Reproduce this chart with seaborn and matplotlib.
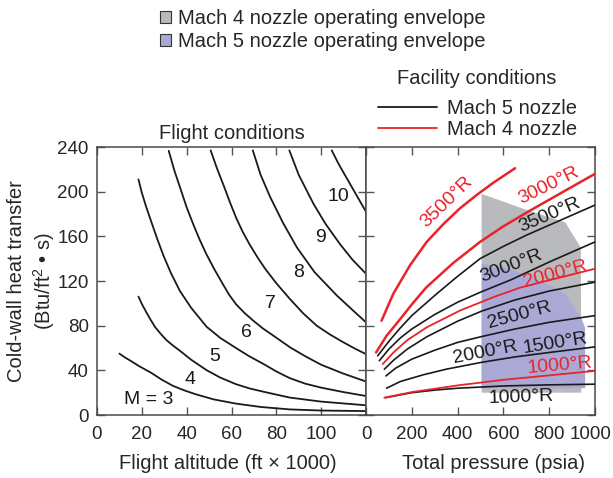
import pandas as pd
import seaborn as sns
import matplotlib.pyplot as plt
from matplotlib.patches import Patch
from matplotlib.lines import Line2D
from matplotlib.transforms import ScaledTranslation

# Flight conditions: altitude (ft x 1000) vs cold-wall heat transfer, one curve per Mach number
m3_alt = [10, 12.5, 15, 19, 24, 29, 34, 39, 44, 52, 62, 73, 86, 100, 120]
m3_q = [55, 51.5, 48.5, 43.5, 38, 31.5, 26, 22, 18.6, 14, 10.2, 7.2, 5, 4, 3.5]
m4_alt = [18.5, 20, 22, 24, 26, 28.5, 31, 34, 37, 42, 49, 55, 62, 68, 75, 86, 100, 120]
m4_q = [106, 99.5, 92, 85, 78.5, 72.5, 67, 62, 57.5, 49.5, 40, 33.5, 27.6, 23.8, 20.5, 15.6, 12, 8.7]
m5_alt = [18.5, 20, 22, 24.4, 27, 29.6, 33, 37, 42, 48.9, 55, 62, 68, 74, 80, 86, 93, 100, 110, 120]
m5_q = [211, 199, 186, 172, 157, 143, 127, 111, 96, 79, 69, 60, 52.5, 46, 39, 33, 28, 24.5, 20.5, 17]
m6_alt = [32, 34.5, 37, 40, 42.9, 45.8, 48.8, 52.5, 56.2, 59, 62.1, 66, 70, 74, 78, 86.2, 93, 100, 110, 120]
m6_q = [236.6, 219, 204, 186, 171, 157, 144, 130, 117, 107.5, 99, 91, 84, 77.5, 72, 60.5, 52.5, 45, 37, 30]
m7_alt = [50.7, 53.5, 56.6, 59.4, 62.2, 65, 68, 71.5, 75, 80, 86, 92, 98, 104, 110, 115, 120]
m7_q = [237, 221, 205, 190, 176, 164, 153, 141.5, 131, 118, 104, 91, 80, 72, 65, 59.5, 54.5]
m8_alt = [69.5, 73, 77.3, 83, 89.2, 97, 107, 114, 120]
m8_q = [237, 215, 195, 172, 150, 128, 107, 94, 83]
m9_alt = [85.8, 90, 96.6, 102, 108.4, 114, 120]
m9_q = [237, 215, 189, 171, 153, 139, 126.5]
m10_alt = [104.7, 108, 112, 116, 120]
m10_q = [237, 224, 210, 196, 182]

mach_labels = ['M = 3', '4', '5', '6', '7', '8', '9', '10']
mach_label_alt = [22.9, 41.5, 52.6, 66.8, 77.2, 89.8, 99.5, 107.7]
mach_label_q = [14.1, 32.1, 52.1, 74, 99.5, 127.9, 159.4, 195.3]

# Facility conditions: total pressure (psia) vs heat transfer
# Mach 4 nozzle (red)
r3500_p = [68, 119, 192, 265, 338, 410, 483, 556, 651]
r3500_q = [84.5, 108.5, 134, 155, 171, 185, 197, 208, 221]
r3000_p = [44, 90, 146, 200, 262, 380, 498, 600, 716, 862, 1000]
r3000_q = [56, 71, 85, 99, 114, 136, 155, 169, 183, 200, 216]
r2000_p = [73, 120, 180, 265, 410, 556, 672, 825, 1000]
r2000_q = [45.6, 56, 67, 78.5, 93.5, 105.5, 114, 122, 131]
r1000_p = [80, 200, 400, 600, 800, 1000]
r1000_q = [15.5, 20.5, 26.5, 31.5, 35.5, 39.5]
# Mach 5 nozzle (black)
b3500_p = [51, 100, 150, 200, 300, 393, 498, 600, 700, 800, 900, 1000]
b3500_q = [53, 66, 78, 89, 107, 123, 140, 151, 161, 170, 179, 188]
b3000_p = [58, 100, 150, 200, 300, 400, 500, 632, 800, 1000]
b3000_q = [48.6, 59, 69, 77, 90, 101, 110, 121, 137, 155]
b2500_p = [80, 120, 180, 265, 400, 505, 650, 800, 1000]
b2500_q = [41, 49, 59, 70, 84, 93, 103, 111, 119]
b2000_p = [87, 130, 200, 300, 400, 500, 650, 800, 1000]
b2000_q = [35, 42, 50, 58, 65, 70, 77, 83, 89]
b1500_p = [90, 150, 250, 350, 500, 650, 800, 1000]
b1500_q = [24, 30, 36, 41, 47, 52, 56, 61]
b1000_p = [85, 200, 300, 400, 600, 800, 1000]
b1000_q = [15.5, 20, 22.3, 24, 26, 27, 27.6]

# operating envelopes
m4_env_p = [505, 690, 870, 938, 940, 505]
m4_env_q = [198, 184.5, 172.5, 150, 20, 20]
m5_env_p = [505, 629, 789, 869, 942, 957, 957, 505]
m5_env_q = [135.5, 131, 117.5, 108.5, 86, 78, 24, 24]

# curve labels
temp_labels = ['3500°R', '3000°R', '3500°R', '3000°R', '2000°R',
               '2500°R', '2000°R', '1500°R', '1000°R', '1000°R']
temp_label_p = [352, 799, 803, 632, 825, 672, 520, 825, 844, 675]
temp_label_q = [191, 205, 179, 133, 126.4, 89, 56, 64.1, 44, 15.6]
temp_label_rot = [44, 26, 23, 21, 15, 15, 11, 9, 5, 2]
temp_label_nozzle = ['M4', 'M4', 'M5', 'M5', 'M4', 'M5', 'M5', 'M5', 'M4', 'M5']

RED = '#e8232a'
BLACK = '#1a1a1a'
GRAY = '#b9babd'
PURPLE = '#aaa9d6'
FS = 14.5
TICK_FS = 13.5

sns.set_style('ticks')
plt.rcParams['font.family'] = ['Liberation Sans', 'DejaVu Sans']
plt.rcParams['mathtext.fontset'] = 'custom'
plt.rcParams['mathtext.rm'] = 'Liberation Sans'
plt.rcParams['mathtext.default'] = 'regular'

fig = plt.figure(figsize=(6.13, 4.78), dpi=100)
ax1 = fig.add_axes([97 / 613, 1 - 415 / 478, 269 / 613, 268 / 478])
ax2 = fig.add_axes([366 / 613, 1 - 415 / 478, 229 / 613, 268 / 478])

# left panel
left_curves = [(m3_alt, m3_q), (m4_alt, m4_q), (m5_alt, m5_q), (m6_alt, m6_q),
               (m7_alt, m7_q), (m8_alt, m8_q), (m9_alt, m9_q), (m10_alt, m10_q)]
for alt, q in left_curves:
    sns.lineplot(x=alt, y=q, ax=ax1, color=BLACK, lw=1.3, sort=False, estimator=None)
for txt, a, q in zip(mach_labels, mach_label_alt, mach_label_q):
    ax1.text(a, q, txt, fontsize=14, ha='center', va='center', color=BLACK)

# right panel
ax2.fill(m4_env_p, m4_env_q, color=GRAY, lw=0, zorder=1)
ax2.fill(m5_env_p, m5_env_q, color=PURPLE, lw=0, zorder=1.5)
red_curves = [(r3500_p, r3500_q, 1.8), (r3000_p, r3000_q, 1.8),
              (r2000_p, r2000_q, 1.3), (r1000_p, r1000_q, 1.3)]
black_curves = [(b3500_p, b3500_q), (b3000_p, b3000_q), (b2500_p, b2500_q),
                (b2000_p, b2000_q), (b1500_p, b1500_q), (b1000_p, b1000_q)]
for p, q in black_curves:
    sns.lineplot(x=p, y=q, ax=ax2, color=BLACK, lw=1.2, sort=False, estimator=None, zorder=3)
for p, q, w in red_curves:
    sns.lineplot(x=p, y=q, ax=ax2, color=RED, lw=w, sort=False, estimator=None, zorder=4)
for txt, p, q, r, n in zip(temp_labels, temp_label_p, temp_label_q, temp_label_rot, temp_label_nozzle):
    ax2.text(p, q, txt, fontsize=14, rotation=r, rotation_mode='anchor',
             ha='center', va='center', color=RED if n == 'M4' else BLACK, zorder=5)

# axes styling
for ax in (ax1, ax2):
    ax.set_ylim(0, 240)
    ax.set_yticks(range(0, 241, 40))
    ax.tick_params(direction='in', length=6, width=1, color='#555555', top=True, right=True,
                   labelsize=TICK_FS)
    ax.tick_params(axis='x', pad=8)
    ax.tick_params(axis='y', pad=6)
    for s in ax.spines.values():
        s.set_color('#4a4a4a')
        s.set_linewidth(1.1)
ax1.set_xlim(0, 120)
ax1.set_xticks(range(0, 121, 20))
ax1.set_xticklabels(['0', '20', '40', '60', '80', '100', ''])
ax2.set_xlim(0, 1000)
ax2.set_xticks(range(0, 1001, 200))
ax2.tick_params(labelleft=False)
# keep the last pressure label inside the canvas, as in the reference
last = ax2.get_xticklabels()[-1]
last.set_transform(last.get_transform() + ScaledTranslation(-4 / 100, 0, fig.dpi_scale_trans))

ax1.set_title('Flight conditions', fontsize=FS, pad=6)
ax1.set_xlabel('Flight altitude (ft × 1000)', fontsize=FS)
ax1.xaxis.set_label_coords(0.485, -0.145)
ax1.set_ylabel('Cold-wall heat transfer\n(Btu/ft$^2$ • s)', fontsize=FS, linespacing=1.25)
ax1.yaxis.label.set_va('center')
ax1.yaxis.set_label_coords(-0.242, 0.5)
ax2.set_xlabel('Total pressure (psia)', fontsize=FS)
ax2.xaxis.set_label_coords(0.555, -0.145)

# legends
env_handles = [Patch(facecolor=GRAY, edgecolor='#333333', lw=0.8),
               Patch(facecolor=PURPLE, edgecolor='#333333', lw=0.8)]
fig.legend(env_handles, ['Mach 4 nozzle operating envelope', 'Mach 5 nozzle operating envelope'],
           loc='center left', bbox_to_anchor=(160 / 613, 1 - 30 / 478), frameon=False,
           fontsize=FS, handlelength=0.55, handleheight=0.55, handletextpad=0.35,
           labelspacing=0.2, borderpad=0, borderaxespad=0)
line_handles = [Line2D([], [], color=BLACK, lw=1.3), Line2D([], [], color=RED, lw=1.3)]
fig.legend(line_handles, ['Mach 5 nozzle', 'Mach 4 nozzle'],
           loc='center left', bbox_to_anchor=(378 / 613, 1 - 119 / 478), frameon=False,
           fontsize=FS, handlelength=2.95, handletextpad=0.5, labelspacing=0.1,
           borderpad=0, borderaxespad=0)
fig.text(477 / 613, 1 - 78 / 478, 'Facility conditions', fontsize=FS, ha='center', va='center')

fig.savefig('out.png', dpi=100)
